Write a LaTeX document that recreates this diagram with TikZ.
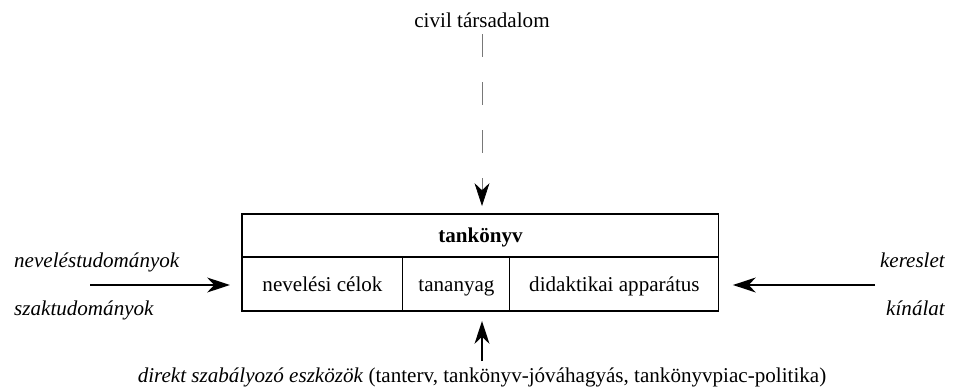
\documentclass[tikz,border=0pt]{standalone}
\usepackage{fontspec}
\setmainfont{Liberation Serif}
\usetikzlibrary{arrows.meta,positioning}
\definecolor{dashgray}{RGB}{120,120,120}

\begin{document}
\begin{tikzpicture}[x=0.02cm, y=-0.02cm,
    font=\fontsize{12}{14}\selectfont,
    cell/.style={draw, line width=0.6pt, minimum height=1.08cm, inner sep=0pt, outer sep=0pt, text height=8pt, text depth=0pt},
    flow/.style={line width=0.8pt, -{Stealth[length=13pt, width=8.5pt, inset=4pt]}},
    side/.style={font=\fontsize{12}{14}\selectfont\itshape, anchor=base}]
    \useasboundingbox (0,0) rectangle (957,392);

    % the textbook box
    \node[cell, minimum width=3.22cm, anchor=north west] (celok) at (242,257) {nevelési célok};
    \node[cell, minimum width=2.14cm, right=0pt of celok] (tananyag) {tananyag};
    \node[cell, minimum width=4.18cm, right=0pt of tananyag] (apparatus) {didaktikai apparátus};
    \node[cell, minimum width=9.54cm, minimum height=0.86cm, anchor=south west, font=\fontsize{12}{14}\selectfont\bfseries] (title) at (celok.north west) {tankönyv};

    % civil society, from above
    \node[anchor=base] (civil) at (482,28) {civil társadalom};
    \draw[dashgray, line width=0.4pt, dash pattern=on 0.46cm off 0.5cm, shorten >=0.16cm,
        -{Stealth[black, length=13pt, width=8.5pt, inset=4pt]}] (civil.south) -- (civil.south |- title.north);

    % sciences, from the left
    \node[side, anchor=base west] (nevtud) at (8,267) {neveléstudományok};
    \node[side, anchor=base west] (szaktud) at (8,315) {szaktudományok};
    \coordinate (leftin) at (90,285);
    \draw[flow, shorten >=0.24cm] (leftin) -- (leftin -| celok.west);

    % market, from the right
    \node[side, anchor=base east] (kereslet) at (951,267) {kereslet};
    \node[side, anchor=base east] (kinalat) at (951,315) {kínálat};
    \coordinate (rightin) at (875,285);
    \draw[flow, shorten >=0.28cm] (rightin) -- (rightin -| apparatus.east);

    % regulation, from below
    \node[anchor=base] (direkt) at (482,382) {\textit{direkt szabályozó eszközök} (tanterv, tankönyv-jóváhagyás, tankönyvpiac-politika)};
    \draw[flow, shorten >=0.2cm] (direkt.north) -- (direkt.north |- celok.south);
\end{tikzpicture}
\end{document}
